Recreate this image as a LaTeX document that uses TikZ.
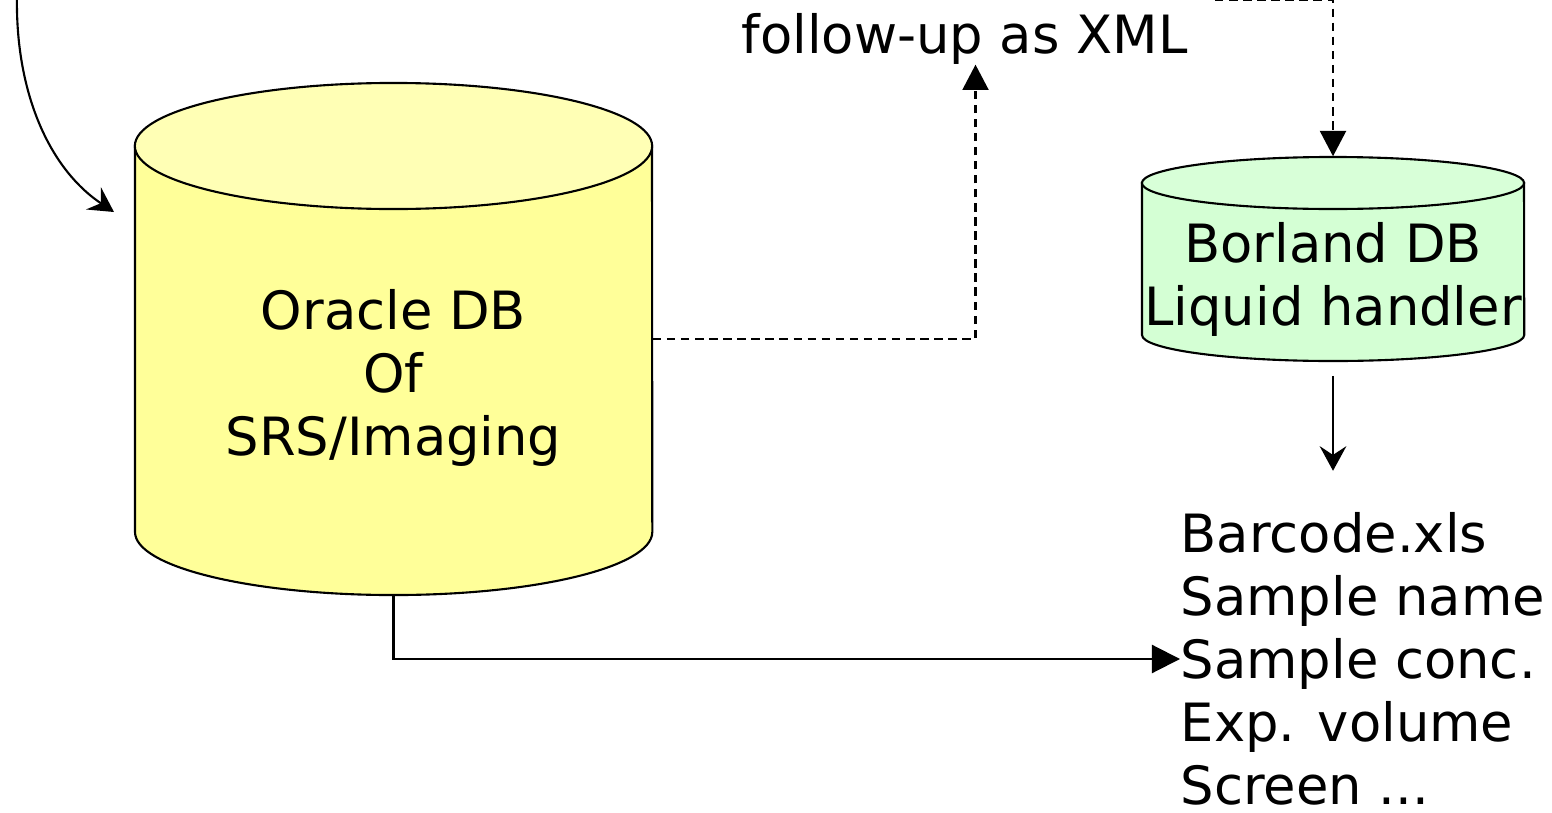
\documentclass[tikz,border=0pt]{standalone}
\usepackage{fontspec}
\setmainfont{DejaVu Sans}
\usetikzlibrary{arrows.meta}
\definecolor{ybody}{HTML}{FFFF99}
\definecolor{ytop}{HTML}{FFFFB5}
\definecolor{gbody}{HTML}{D4FFD4}
\definecolor{gtop}{HTML}{D8FFD8}
\begin{document}
\begin{tikzpicture}[x=0.01cm,y=-0.01cm,
  lbl/.style={font=\fontsize{15}{17.9}\selectfont, inner sep=0pt, anchor=base},
  lstl/.style={font=\fontsize{15}{17.9}\selectfont, inner sep=0pt, anchor=base west},
  cyl/.style={draw=black, line width=0.6pt},
  area/.style={draw=none, inner sep=0pt},
  conn/.style={line width=0.6pt},
  dconn/.style={line width=0.6pt, dash pattern=on 2.4pt off 1.6pt},
  tri/.style={-{Triangle[length=7.2pt,width=7.4pt]}},
  stl/.style={-{Stealth[length=7pt,width=7.6pt,inset=2.5pt]}},
  ]
\useasboundingbox (0,0) rectangle (1552,812);

% Oracle cylinder
\path[cyl, fill=ybody] (135,146) -- (135,532)
  arc[start angle=180,end angle=360,x radius=2.585cm,y radius=0.63cm]
  -- (652,146) -- cycle;
\path[cyl, fill=ytop] (393.5,146) ellipse [x radius=2.585cm, y radius=0.63cm];
\node[area, minimum width=5.17cm, minimum height=5.12cm] (oracle) at (393.5,339) {};
\node[lbl] (o1) at (393.5,329) {Oracle DB};
\node[lbl] (o2) at (393.5,392) {Of};
\node[lbl] (o3) at (393.5,455) {SRS/Imaging};

% Borland cylinder
\path[cyl, fill=gbody] (1142,183) -- (1142,335)
  arc[start angle=180,end angle=360,x radius=1.91cm,y radius=0.26cm]
  -- (1524,183) -- cycle;
\path[cyl, fill=gtop] (1333,183) ellipse [x radius=1.91cm, y radius=0.26cm];
\node[area, minimum width=3.82cm, minimum height=2.04cm] (borland) at (1333,259) {};
\node[lbl] (b1) at (1333,262) {Borland DB};
\node[lbl] (b2) at (1333,325) {Liquid handler};

% follow-up label
\node[lbl] (fu) at (964.5,53) {follow-up as XML};

% list
\node[lstl] (l1) at (1180,552) {Barcode.xls};
\node[lstl] (l2) at (1180,615) {Sample name};
\node[lstl] (l3) at (1180,678) {Sample conc.};
\node[lstl] (l4) at (1180,741) {Exp. volume};
\node[lstl] (l5) at (1180,804) {Screen ...};

% free ends
\coordinate (cstart) at (17,-5);
\coordinate (cend) at (114,212);
\coordinate (tr) at (1215,0);

% connectors
\draw[conn, stl] (cstart) .. controls (15,90) and (48,168) .. (cend);
\draw[dconn, tri] (oracle.east) -| ([xshift=0.11cm]fu.south);
\draw[dconn, tri] (tr) -| (borland.north);
\draw[conn, stl] ([yshift=-0.14cm]borland.south) -- ++(0,95);
\draw[conn, -{Triangle[length=8pt,width=8pt]}] (oracle.south) |- ([yshift=0.19cm]l3.base west);
\end{tikzpicture}
\end{document}
